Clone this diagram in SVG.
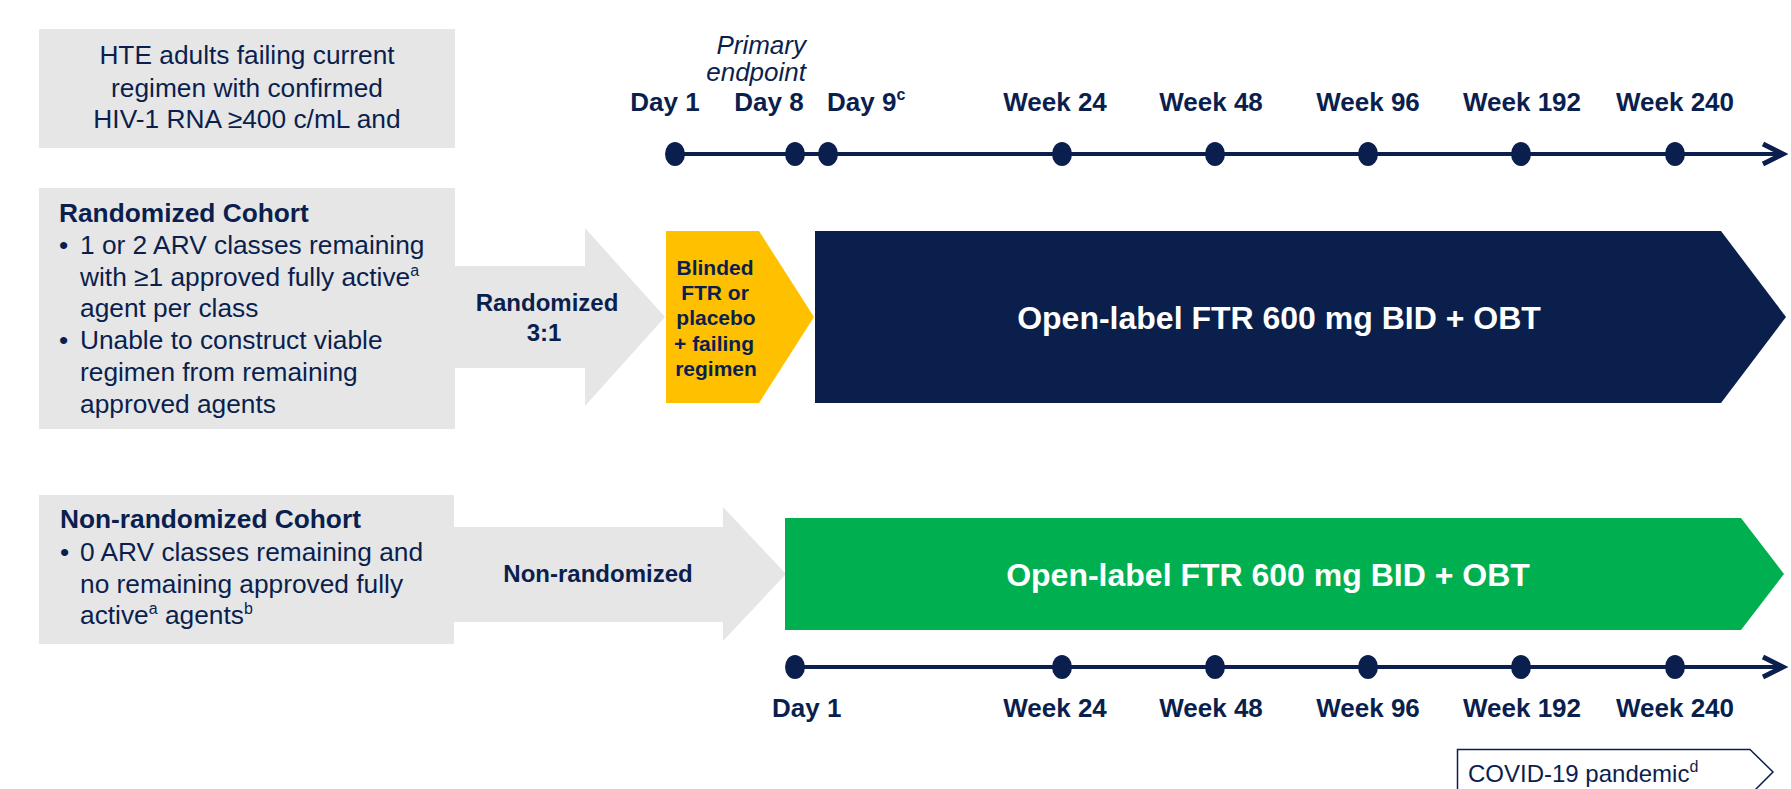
<svg xmlns="http://www.w3.org/2000/svg" width="1791" height="789" viewBox="0 0 1791 789">
<style>
text{font-family:"Liberation Sans",Arial,sans-serif;fill:#0b1f4e}
.b{font-weight:bold}
.lbl{font-size:26px;font-weight:bold}
.c{text-anchor:middle}
.e{text-anchor:end}
.body{font-size:26.3px}
.sup{font-size:16px}
.gray{fill:#e6e6e6}
.dot{fill:#0b1f4e}
.axis{stroke:#0b1f4e;stroke-width:4;fill:none}
.w{fill:#ffffff;font-weight:bold;font-size:32px;text-anchor:middle}
</style>
<defs>
<marker id="chev" viewBox="0 0 30 30" refX="25" refY="15" markerWidth="30" markerHeight="30" markerUnits="userSpaceOnUse" orient="auto">
<path d="M5,5 L25,15 L5,25" fill="none" stroke="#0b1f4e" stroke-width="5" stroke-linejoin="miter"/>
</marker>
</defs>
<rect width="1791" height="789" fill="#ffffff"/>

<g id="eligibility">
<rect class="gray" x="39" y="29" width="416" height="119"/>
<text class="body c" x="247" y="64">HTE adults failing current</text>
<text class="body c" x="247" y="96.5">regimen with confirmed</text>
<text class="body c" x="247" y="128">HIV-1 RNA ≥400 c/mL and</text>
</g>

<g id="randomized-cohort">
<rect class="gray" x="39" y="188" width="416" height="241"/>
<text class="body b" x="59" y="222">Randomized Cohort</text>
<text class="body" x="59" y="254">•</text>
<text class="body" x="80" y="254">1 or 2 ARV classes remaining</text>
<text class="body" x="80" y="286">with ≥1 approved fully active<tspan class="sup" dy="-10">a</tspan></text>
<text class="body" x="80" y="317">agent per class</text>
<text class="body" x="59" y="349">•</text>
<text class="body" x="80" y="349">Unable to construct viable</text>
<text class="body" x="80" y="381">regimen from remaining</text>
<text class="body" x="80" y="413">approved agents</text>
</g>

<g id="randomized-arrow">
<polygon class="gray" points="452,266 585,266 585,228 665,317 585,406 585,368 452,368"/>
<text class="b c" font-size="24" x="547" y="311">Randomized</text>
<text class="b c" font-size="24" x="544" y="341">3:1</text>
</g>

<g id="blinded-phase">
<polygon fill="#ffc000" points="666,231 759,231 814,317 759,403 666,403"/>
<text class="b c" font-size="21" x="715" y="275">Blinded</text>
<text class="b c" font-size="21" x="715" y="300">FTR or</text>
<text class="b c" font-size="21" x="716" y="325">placebo</text>
<text class="b c" font-size="21" x="714" y="351">+ failing</text>
<text class="b c" font-size="21" x="716" y="376">regimen</text>
</g>

<g id="open-label-randomized">
<polygon fill="#0a1f4b" points="815,231 1721,231 1786,317 1721,403 815,403"/>
<text class="w" x="1279" y="329">Open-label FTR 600 mg BID + OBT</text>
</g>

<g id="nonrandomized-cohort">
<rect class="gray" x="39" y="495" width="415" height="149"/>
<text class="body b" x="60" y="528">Non-randomized Cohort</text>
<text class="body" x="60" y="561">•</text>
<text class="body" x="80" y="561">0 ARV classes remaining and</text>
<text class="body" x="80" y="593">no remaining approved fully</text>
<text class="body" x="80" y="624">active<tspan class="sup" dy="-10">a</tspan><tspan dy="10"> agents</tspan><tspan class="sup" dy="-10">b</tspan></text>
</g>

<g id="nonrandomized-arrow">
<polygon class="gray" points="452,527 723,527 723,507 786,574 723,641 723,622 452,622"/>
<text class="b c" font-size="24" x="598" y="582">Non-randomized</text>
</g>

<g id="open-label-nonrandomized">
<polygon fill="#00b050" points="785,518 1741,518 1784,574 1741,630 785,630"/>
<text class="w" x="1268" y="586">Open-label FTR 600 mg BID + OBT</text>
</g>

<g id="connectors">
<line class="axis" x1="675" y1="154" x2="1783" y2="154" marker-end="url(#chev)"/>
<line class="axis" x1="795" y1="667" x2="1783" y2="667" marker-end="url(#chev)"/>
</g>

<g id="timeline-top">
<ellipse class="dot" cx="675" cy="154" rx="10" ry="12"/>
<ellipse class="dot" cx="795" cy="154" rx="10" ry="12"/>
<ellipse class="dot" cx="828" cy="154" rx="10" ry="12"/>
<ellipse class="dot" cx="1062" cy="154" rx="10" ry="12"/>
<ellipse class="dot" cx="1215" cy="154" rx="10" ry="12"/>
<ellipse class="dot" cx="1368" cy="154" rx="10" ry="12"/>
<ellipse class="dot" cx="1521" cy="154" rx="10" ry="12"/>
<ellipse class="dot" cx="1675" cy="154" rx="10" ry="12"/>
<text font-size="26" font-style="italic" class="e" x="806" y="54">Primary</text>
<text font-size="26" font-style="italic" class="e" x="806" y="81">endpoint</text>
<text class="lbl c" x="665" y="111">Day 1</text>
<text class="lbl c" x="769" y="111">Day 8</text>
<text class="lbl" x="827" y="111">Day 9<tspan class="sup" dy="-11">c</tspan></text>
<text class="lbl c" x="1055" y="111">Week 24</text>
<text class="lbl c" x="1211" y="111">Week 48</text>
<text class="lbl c" x="1368" y="111">Week 96</text>
<text class="lbl c" x="1522" y="111">Week 192</text>
<text class="lbl c" x="1675" y="111">Week 240</text>
</g>

<g id="timeline-bottom">
<ellipse class="dot" cx="795" cy="667" rx="10" ry="12"/>
<ellipse class="dot" cx="1062" cy="667" rx="10" ry="12"/>
<ellipse class="dot" cx="1215" cy="667" rx="10" ry="12"/>
<ellipse class="dot" cx="1368" cy="667" rx="10" ry="12"/>
<ellipse class="dot" cx="1521" cy="667" rx="10" ry="12"/>
<ellipse class="dot" cx="1675" cy="667" rx="10" ry="12"/>
<text class="lbl" x="772" y="717">Day 1</text>
<text class="lbl c" x="1055" y="717">Week 24</text>
<text class="lbl c" x="1211" y="717">Week 48</text>
<text class="lbl c" x="1368" y="717">Week 96</text>
<text class="lbl c" x="1522" y="717">Week 192</text>
<text class="lbl c" x="1675" y="717">Week 240</text>
</g>

<g id="covid">
<polyline points="1457.5,792 1457.5,749.5 1750,749.5 1773,772 1753,792" fill="#ffffff" stroke="#0b1f4e" stroke-width="1.5"/>
<text font-size="24" x="1468" y="782">COVID-19 pandemic<tspan class="sup" dy="-10">d</tspan></text>
</g>
</svg>
